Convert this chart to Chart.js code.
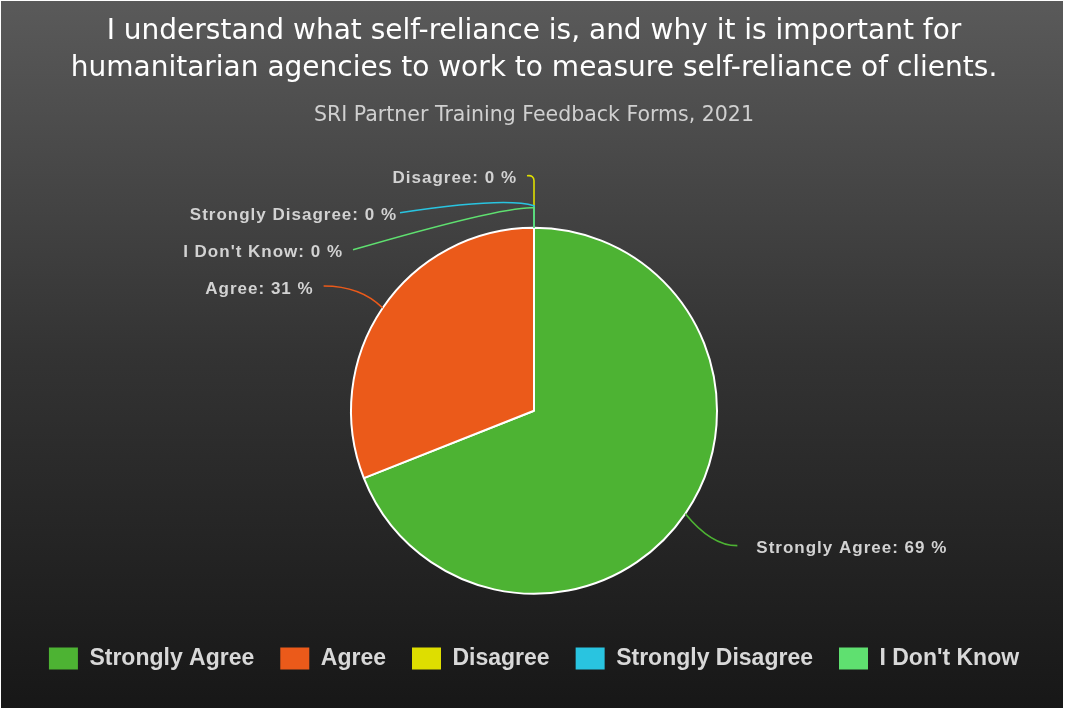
<!DOCTYPE html>
<html>
<head>
<meta charset="utf-8">
<script src="https://cdn.jsdelivr.net/npm/chart.js@4.4.1/dist/chart.umd.min.js"></script>
<style>
  html, body { margin: 0; padding: 0; background: #ffffff; }
  #wrap { width: 1065px; height: 710px; }
</style>
</head>
<body>
<div id="wrap"><canvas id="c" width="1065" height="710"></canvas></div>
<script>
// ---- data ----
const titleLines = [
  "I understand what self-reliance is, and why it is important for",
  "humanitarian agencies to work to measure self-reliance of clients."
];
const subtitleText = "SRI Partner Training Feedback Forms, 2021";
const categories = ["Strongly Agree", "Agree", "Disagree", "Strongly Disagree", "I Don't Know"];
const percentages = [69, 31, 0, 0, 0];

// ---- styles ----
const sliceColors = ["#4db333", "#eb5a1a", "#dede00", "#29c4e0", "#5fe070"];
// leader-line layout per slice (offsets relative to the slice's anchor on the rim)
const labelLayout = [
  { stem: 0,  end: [52, 32],    ctrl: [26, 32],   gap: 19, align: "left" },
  { stem: 0,  end: [-59, -22],  ctrl: [-22, -22], gap: 10, align: "right" },
  { stem: 47, end: [-7, -52],   ctrl: [0, -53],   gap: 10, align: "right" },
  { stem: 22, end: [-134, -15], ctrl: [-29, -31], gap: 3,  align: "right" },
  { stem: 20, end: [-181, 22],  ctrl: [-29, -22], gap: 10, align: "right" }
];

const bgPlugin = {
  id: "bg",
  beforeDraw(chart) {
    const { ctx, width, height } = chart;
    ctx.save();
    ctx.fillStyle = "#ffffff";
    ctx.fillRect(0, 0, width, height);
    const g = ctx.createLinearGradient(0, 0, 0, height);
    g.addColorStop(0, "#5a5a5a");
    g.addColorStop(0.5, "#333333");
    g.addColorStop(1, "#171717");
    ctx.fillStyle = g;
    ctx.fillRect(1, 1, width - 3, height - 3);
    ctx.restore();
  }
};

const outLabels = {
  id: "outLabels",
  afterDatasetsDraw(chart) {
    const { ctx } = chart;
    const meta = chart.getDatasetMeta(0);
    const ds = chart.data.datasets[0];
    ctx.save();
    meta.data.forEach((arc, i) => {
      const L = labelLayout[i];
      const mid = (arc.startAngle + arc.endAngle) / 2;
      const r = arc.outerRadius;
      const ax = arc.x + r * Math.cos(mid);
      const ay = arc.y + r * Math.sin(mid);
      const ex = ax + L.end[0], ey = ay + L.end[1];
      const cx = ax + L.ctrl[0], cy = ay + L.ctrl[1];
      ctx.beginPath();
      ctx.strokeStyle = sliceColors[i];
      ctx.lineWidth = 1.6;
      ctx.moveTo(ax, ay);
      if (L.stem) ctx.lineTo(ax, ay - L.stem);
      ctx.quadraticCurveTo(cx, cy, ex, ey);
      ctx.stroke();
      ctx.font = "bold 17px 'Liberation Sans', Arial, sans-serif";
      try { ctx.letterSpacing = "1px"; } catch (e) {}
      ctx.fillStyle = "#d2d2d2";
      ctx.textBaseline = "middle";
      ctx.textAlign = L.align;
      const tx = L.align === "left" ? ex + L.gap : ex - L.gap;
      ctx.fillText(chart.data.labels[i] + ": " + ds.data[i] + " %", tx, ey + 3);
    });
    ctx.restore();
  }
};

const baseGen = Chart.overrides.pie.plugins.legend.labels.generateLabels;

new Chart(document.getElementById("c"), {
  type: "pie",
  data: {
    labels: categories,
    datasets: [{
      data: percentages,
      backgroundColor: sliceColors,
      borderColor: "#ffffff",
      borderWidth: 2,
      radius: 183
    }]
  },
  plugins: [bgPlugin, outLabels],
  options: {
    responsive: false,
    devicePixelRatio: 1,
    animation: false,
    layout: { padding: { top: 0, bottom: 30, left: 3, right: 0 } },
    plugins: {
      tooltip: { enabled: false },
      title: {
        display: true,
        text: titleLines,
        color: "#ffffff",
        font: { family: "'DejaVu Sans', sans-serif", size: 28, weight: "normal", lineHeight: "37px" },
        padding: { top: 13, bottom: 0 }
      },
      subtitle: {
        display: true,
        text: subtitleText,
        color: "#d0d0d0",
        font: { family: "'DejaVu Sans', sans-serif", size: 20.5, weight: "normal", lineHeight: 1.2 },
        padding: { top: 16, bottom: 73 }
      },
      legend: {
        position: "bottom",
        labels: {
          boxWidth: 29,
          boxHeight: 22,
          padding: 26,
          color: "#d8d8d8",
          font: { family: "'Liberation Sans', Arial, sans-serif", size: 23, weight: "bold" },
          generateLabels(chart) {
            return baseGen(chart).map(l => Object.assign(l, { lineWidth: 0, strokeStyle: "rgba(0,0,0,0)" }));
          }
        }
      }
    }
  }
});
</script>
</body>
</html>
